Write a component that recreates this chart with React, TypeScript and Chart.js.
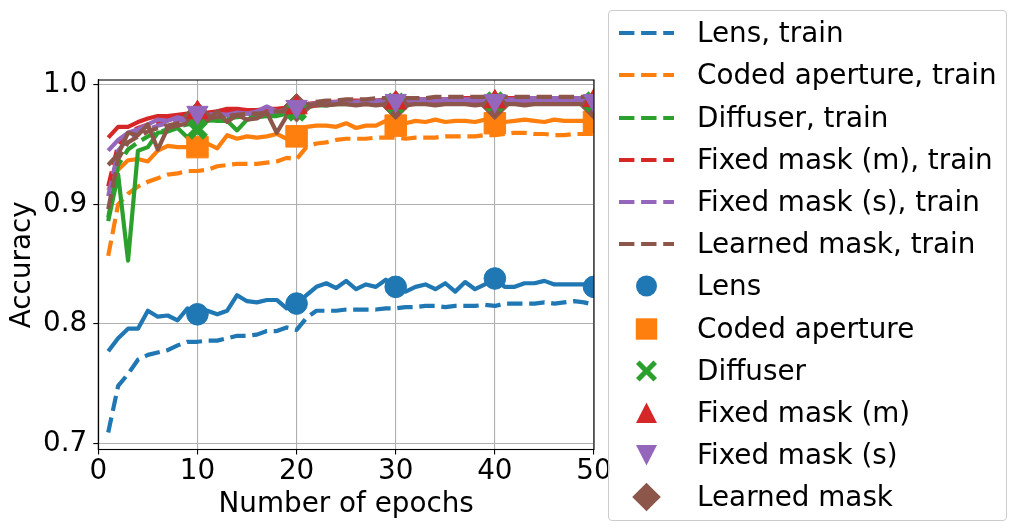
import React, { useEffect, useRef } from "react";
import { Chart, registerables } from "chart.js";

Chart.register(...registerables);

const FONT = "'DejaVu Sans', sans-serif";
const FS = 27.8;

const epochs = Array.from({ length: 50 }, (_, i) => i + 1);
const markerEpochs = [10, 20, 30, 40, 50];
const xTicks = [0, 10, 20, 30, 40, 50];
const yTicks = [0.7, 0.8, 0.9, 1.0];

const methodNames = ["Lens", "Coded aperture", "Diffuser", "Fixed mask (m)", "Fixed mask (s)", "Learned mask"];
const colors = ["#1f77b4", "#ff7f0e", "#2ca02c", "#d62728", "#9467bd", "#8c564b"];

const lensTrain = [0.709, 0.748, 0.758, 0.770, 0.774, 0.776, 0.778, 0.782, 0.785, 0.785,
  0.786, 0.786, 0.788, 0.790, 0.790, 0.791, 0.794, 0.794, 0.797, 0.795,
  0.805, 0.811, 0.811, 0.811, 0.812, 0.812, 0.812, 0.812, 0.813, 0.813,
  0.814, 0.814, 0.815, 0.815, 0.814, 0.815, 0.815, 0.815, 0.816, 0.815,
  0.817, 0.817, 0.817, 0.817, 0.818, 0.817, 0.818, 0.819, 0.818, 0.816];
const lensTest = [0.777, 0.788, 0.796, 0.796, 0.811, 0.806, 0.807, 0.803, 0.813, 0.808,
  0.811, 0.808, 0.811, 0.824, 0.819, 0.818, 0.820, 0.820, 0.813, 0.817,
  0.824, 0.831, 0.834, 0.830, 0.836, 0.829, 0.833, 0.831, 0.837, 0.831,
  0.827, 0.831, 0.833, 0.829, 0.834, 0.827, 0.835, 0.829, 0.833, 0.838,
  0.831, 0.831, 0.834, 0.834, 0.836, 0.833, 0.833, 0.833, 0.833, 0.831];
const codedTrain = [0.857, 0.900, 0.909, 0.915, 0.919, 0.922, 0.925, 0.926, 0.928, 0.928,
  0.929, 0.932, 0.933, 0.934, 0.934, 0.934, 0.935, 0.936, 0.939, 0.938,
  0.948, 0.951, 0.952, 0.954, 0.955, 0.955, 0.955, 0.956, 0.956, 0.956,
  0.955, 0.956, 0.956, 0.956, 0.957, 0.957, 0.957, 0.957, 0.958, 0.958,
  0.959, 0.960, 0.960, 0.959, 0.959, 0.958, 0.958, 0.959, 0.959, 0.959];
const codedTest = [0.912, 0.929, 0.937, 0.938, 0.936, 0.945, 0.949, 0.948, 0.948, 0.948,
  0.951, 0.947, 0.958, 0.955, 0.957, 0.956, 0.957, 0.959, 0.955, 0.957,
  0.965, 0.966, 0.966, 0.965, 0.968, 0.964, 0.966, 0.966, 0.970, 0.966,
  0.968, 0.970, 0.969, 0.971, 0.969, 0.970, 0.970, 0.969, 0.971, 0.968,
  0.969, 0.970, 0.971, 0.970, 0.969, 0.971, 0.970, 0.970, 0.970, 0.969];
const diffTrain = [0.889, 0.933, 0.946, 0.952, 0.957, 0.960, 0.963, 0.965, 0.967, 0.968,
  0.970, 0.971, 0.972, 0.973, 0.974, 0.975, 0.976, 0.977, 0.977, 0.978,
  0.982, 0.984, 0.985, 0.985, 0.986, 0.986, 0.986, 0.987, 0.987, 0.987,
  0.987, 0.987, 0.988, 0.988, 0.988, 0.988, 0.988, 0.988, 0.988, 0.988,
  0.988, 0.989, 0.989, 0.989, 0.989, 0.989, 0.989, 0.989, 0.989, 0.989];
const diffTest = [0.886, 0.925, 0.853, 0.945, 0.948, 0.960, 0.961, 0.964, 0.956, 0.963,
  0.971, 0.970, 0.970, 0.962, 0.971, 0.973, 0.974, 0.974, 0.976, 0.978,
  0.981, 0.983, 0.983, 0.984, 0.984, 0.984, 0.985, 0.985, 0.985, 0.985,
  0.985, 0.985, 0.986, 0.985, 0.986, 0.986, 0.986, 0.986, 0.986, 0.986,
  0.986, 0.986, 0.986, 0.986, 0.986, 0.986, 0.986, 0.986, 0.986, 0.986];
const fixedMTrain = [0.915, 0.950, 0.960, 0.964, 0.967, 0.969, 0.971, 0.972, 0.973, 0.974,
  0.975, 0.976, 0.977, 0.977, 0.978, 0.978, 0.979, 0.979, 0.980, 0.980,
  0.984, 0.985, 0.986, 0.986, 0.987, 0.987, 0.987, 0.987, 0.988, 0.988,
  0.988, 0.988, 0.988, 0.988, 0.988, 0.988, 0.989, 0.989, 0.989, 0.989,
  0.989, 0.989, 0.989, 0.989, 0.989, 0.989, 0.989, 0.989, 0.989, 0.989];
const fixedMTest = [0.956, 0.965, 0.965, 0.969, 0.972, 0.974, 0.974, 0.975, 0.976, 0.977,
  0.977, 0.978, 0.980, 0.980, 0.979, 0.979, 0.980, 0.980, 0.981, 0.981,
  0.982, 0.983, 0.984, 0.984, 0.985, 0.985, 0.984, 0.985, 0.985, 0.985,
  0.986, 0.985, 0.986, 0.986, 0.985, 0.986, 0.986, 0.986, 0.986, 0.986,
  0.986, 0.987, 0.986, 0.987, 0.986, 0.987, 0.987, 0.986, 0.987, 0.987];
const fixedSTrain = [0.907, 0.945, 0.955, 0.960, 0.963, 0.966, 0.968, 0.970, 0.971, 0.972,
  0.973, 0.974, 0.975, 0.975, 0.976, 0.977, 0.977, 0.978, 0.978, 0.979,
  0.983, 0.985, 0.985, 0.986, 0.986, 0.986, 0.987, 0.987, 0.987, 0.987,
  0.987, 0.988, 0.988, 0.988, 0.988, 0.988, 0.988, 0.988, 0.988, 0.988,
  0.988, 0.988, 0.989, 0.989, 0.989, 0.989, 0.989, 0.989, 0.989, 0.989];
const fixedSTest = [0.945, 0.954, 0.960, 0.963, 0.967, 0.971, 0.970, 0.973, 0.971, 0.977,
  0.975, 0.976, 0.975, 0.977, 0.976, 0.978, 0.982, 0.978, 0.979, 0.982,
  0.983, 0.984, 0.984, 0.985, 0.985, 0.985, 0.986, 0.986, 0.986, 0.987,
  0.987, 0.987, 0.987, 0.987, 0.987, 0.987, 0.987, 0.987, 0.987, 0.987,
  0.987, 0.987, 0.987, 0.987, 0.987, 0.987, 0.987, 0.987, 0.987, 0.987];
const learnedTrain = [0.896, 0.938, 0.952, 0.957, 0.961, 0.964, 0.966, 0.968, 0.970, 0.971,
  0.972, 0.973, 0.974, 0.975, 0.976, 0.976, 0.977, 0.978, 0.978, 0.979,
  0.984, 0.986, 0.987, 0.987, 0.988, 0.988, 0.988, 0.989, 0.989, 0.989,
  0.989, 0.989, 0.989, 0.990, 0.990, 0.990, 0.990, 0.990, 0.990, 0.990,
  0.990, 0.990, 0.990, 0.990, 0.990, 0.990, 0.990, 0.990, 0.990, 0.990];
const learnedTest = [0.933, 0.942, 0.960, 0.958, 0.967, 0.946, 0.964, 0.966, 0.968, 0.974,
  0.970, 0.978, 0.969, 0.975, 0.971, 0.972, 0.977, 0.960, 0.974, 0.982,
  0.983, 0.984, 0.983, 0.984, 0.984, 0.983, 0.984, 0.983, 0.984, 0.984,
  0.983, 0.984, 0.984, 0.983, 0.984, 0.984, 0.984, 0.983, 0.984, 0.984,
  0.984, 0.984, 0.983, 0.984, 0.984, 0.984, 0.984, 0.984, 0.984, 0.984];

const lensMarkers = [0.808, 0.817, 0.831, 0.838, 0.831];
const codedMarkers = [0.948, 0.957, 0.966, 0.968, 0.969];
const diffMarkers = [0.963, 0.978, 0.985, 0.986, 0.986];
const fixedMMarkers = [0.977, 0.981, 0.985, 0.986, 0.987];
const fixedSMarkers = [0.977, 0.982, 0.987, 0.987, 0.987];
const learnedMarkers = [0.974, 0.981, 0.983, 0.983, 0.983];

const trainSeries = [lensTrain, codedTrain, diffTrain, fixedMTrain, fixedSTrain, learnedTrain];
const testSeries = [lensTest, codedTest, diffTest, fixedMTest, fixedSTest, learnedTest];
const markerSeries = [lensMarkers, codedMarkers, diffMarkers, fixedMMarkers, fixedSMarkers, learnedMarkers];
// drawing order of the marker sets (last one ends up on top)
const markerDrawOrder = [0, 1, 5, 2, 3, 4];

type MarkerDef = { style: string; radius: number; rotation: number; borderWidth: number };
const markerDefs: MarkerDef[] = [
  { style: "circle", radius: 10.8, rotation: 0, borderWidth: 1 },
  { style: "rect", radius: 15.2, rotation: 0, borderWidth: 1 },
  { style: "crossRot", radius: 11.3, rotation: 0, borderWidth: 7 },
  { style: "triangle", radius: 12.3, rotation: 0, borderWidth: 1 },
  { style: "triangle", radius: 12.3, rotation: 180, borderWidth: 1 },
  { style: "rectRot", radius: 14.3, rotation: 0, borderWidth: 1 },
];

const LW = 4.2;
const DASH = [15.4, 6.7];

const spinePlugin = {
  id: "spines",
  afterDatasetsDraw(chart: any) {
    const { ctx, chartArea } = chart;
    ctx.save();
    ctx.strokeStyle = "#000";
    ctx.lineWidth = 1.1;
    ctx.strokeRect(chartArea.left, chartArea.top, chartArea.right - chartArea.left, chartArea.bottom - chartArea.top);
    ctx.restore();
  },
};

function LegendMark({ kind, color }: { kind: number | string; color: string }) {
  const cx = 37.5, cy = 21;
  if (kind === "line") {
    return (
      <line x1={10} y1={cy} x2={65} y2={cy} stroke={color} strokeWidth={LW} strokeDasharray={DASH.join(" ")} />
    );
  }
  switch (kind) {
    case 0:
      return <circle cx={cx} cy={cy} r={10.5} fill={color} />;
    case 1:
      return <rect x={cx - 10.7} y={cy - 10.7} width={21.4} height={21.4} fill={color} />;
    case 2: {
      const a = 10.5, t = 3.6;
      const d = `M${cx - a},${cy - a + t} L${cx - a + t},${cy - a} L${cx},${cy - t} L${cx + a - t},${cy - a} L${cx + a},${cy - a + t} L${cx + t},${cy} L${cx + a},${cy + a - t} L${cx + a - t},${cy + a} L${cx},${cy + t} L${cx - a + t},${cy + a} L${cx - a},${cy + a - t} L${cx - t},${cy} Z`;
      return <path d={d} fill={color} />;
    }
    case 3:
      return <polygon points={`${cx},${cy - 10.5} ${cx + 10.5},${cy + 10} ${cx - 10.5},${cy + 10}`} fill={color} />;
    case 4:
      return <polygon points={`${cx},${cy + 10.5} ${cx + 10.5},${cy - 10} ${cx - 10.5},${cy - 10}`} fill={color} />;
    default:
      return <polygon points={`${cx},${cy - 14.3} ${cx + 14.3},${cy} ${cx},${cy + 14.3} ${cx - 14.3},${cy}`} fill={color} />;
  }
}

function Legend() {
  const rows: { label: string; color: string; kind: number | string }[] = [];
  methodNames.forEach((n, i) => rows.push({ label: `${n}, train`, color: colors[i], kind: "line" }));
  methodNames.forEach((n, i) => rows.push({ label: n, color: colors[i], kind: i }));
  return (
    <div
      style={{
        position: "absolute",
        left: 608,
        top: 10,
        width: 397,
        height: 508,
        border: "1px solid #cccccc",
        borderRadius: 4,
        background: "rgba(255,255,255,0.8)",
        paddingTop: 1.2,
        boxSizing: "content-box",
        fontFamily: FONT,
        fontSize: FS,
        color: "#000",
      }}
    >
      {rows.map((r, i) => (
        <div key={i} style={{ position: "relative", height: 42.2, lineHeight: "42.2px", whiteSpace: "nowrap" }}>
          <svg width={80} height={42} style={{ position: "absolute", left: 0, top: 0 }}>
            <LegendMark kind={r.kind} color={r.color} />
          </svg>
          <span style={{ position: "absolute", left: 88, top: 0 }}>{r.label}</span>
        </div>
      ))}
    </div>
  );
}

export default function App() {
  const ref = useRef<HTMLCanvasElement>(null);
  useEffect(() => {
    const canvas = ref.current!;
    const datasets: any[] = [];
    let k = 0;
    methodNames.forEach((name, i) => {
      datasets.push({
        label: `${name}, train`,
        data: epochs.map((e, j) => ({ x: e, y: trainSeries[i][j] })),
        borderColor: colors[i],
        backgroundColor: colors[i],
        borderWidth: LW,
        borderDash: DASH,
        borderJoinStyle: "round",
        pointRadius: 0,
        fill: false,
        clip: 0,
        order: -k++,
      });
      datasets.push({
        label: `${name}, test`,
        data: epochs.map((e, j) => ({ x: e, y: testSeries[i][j] })),
        borderColor: colors[i],
        backgroundColor: colors[i],
        borderWidth: LW,
        borderJoinStyle: "round",
        pointRadius: 0,
        fill: false,
        clip: 0,
        order: -k++,
      });
    });
    markerDrawOrder.forEach((i) => {
      const m = markerDefs[i];
      datasets.push({
        label: methodNames[i],
        data: markerEpochs.map((e, j) => ({ x: e, y: markerSeries[i][j] })),
        showLine: false,
        borderColor: colors[i],
        backgroundColor: colors[i],
        pointStyle: m.style,
        pointRadius: m.radius,
        pointRotation: m.rotation,
        pointBorderWidth: m.borderWidth,
        pointBackgroundColor: colors[i],
        pointBorderColor: colors[i],
        clip: 0,
        order: -k++,
      });
    });

    const tickFont = { family: FONT, size: FS };
    const chart = new Chart(canvas, {
      type: "line",
      data: { datasets },
      options: {
        animation: false,
        responsive: false,
        devicePixelRatio: 1,
        layout: { padding: { top: 80, right: 422, left: 0, bottom: 0 } },
        plugins: { legend: { display: false }, tooltip: { enabled: false } },
        scales: {
          x: {
            type: "linear",
            min: 0,
            max: 50,
            afterBuildTicks: (s: any) => {
              s.ticks = xTicks.map((v) => ({ value: v }));
            },
            afterFit: (s: any) => {
              s.height = 81.5;
            },
            ticks: {
              font: tickFont,
              color: "#000",
              padding: 1,
              maxRotation: 0,
              autoSkip: false,
              callback: (v: any) => String(v),
            },
            grid: { color: "#b0b0b0", lineWidth: 1.1, tickColor: "#000", tickLength: 5, tickWidth: 1.1 },
            border: { display: true, color: "#000", width: 1.1 },
            title: {
              display: true,
              text: "Number of epochs",
              color: "#000",
              font: tickFont,
              padding: { top: 0, bottom: 9.6 },
            },
          },
          y: {
            type: "linear",
            min: 0.6948,
            max: 1.0042,
            afterBuildTicks: (s: any) => {
              s.ticks = yTicks.map((v) => ({ value: v }));
            },
            afterFit: (s: any) => {
              s.width = 98.3;
            },
            ticks: {
              font: tickFont,
              color: "#000",
              padding: 6,
              autoSkip: false,
              callback: (v: any) => Number(v).toFixed(1),
            },
            grid: { color: "#b0b0b0", lineWidth: 1.1, tickColor: "#000", tickLength: 5, tickWidth: 1.1 },
            border: { display: true, color: "#000", width: 1.1 },
            title: {
              display: true,
              text: "Accuracy",
              color: "#000",
              font: tickFont,
              padding: { top: 6, bottom: 0 },
            },
          },
        },
      },
      plugins: [spinePlugin],
    } as any);
    return () => chart.destroy();
  }, []);

  return (
    <div style={{ position: "absolute", left: 0, top: 0, width: 1016, height: 531, background: "#fff" }}>
      <canvas ref={ref} width={1016} height={531} style={{ position: "absolute", left: 0, top: 0, width: 1016, height: 531 }} />
      <Legend />
    </div>
  );
}
